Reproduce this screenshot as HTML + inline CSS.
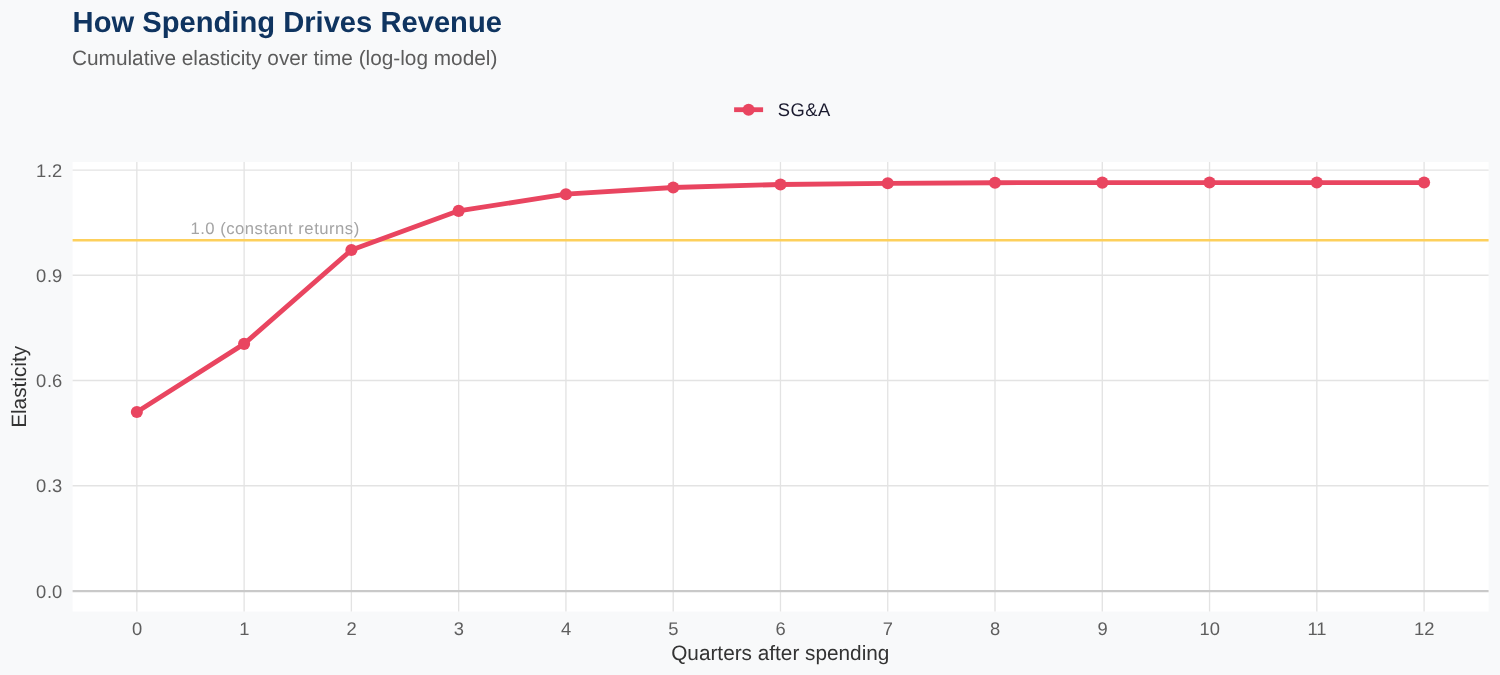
<!DOCTYPE html>
<html lang="en">
<head>
<meta charset="utf-8">
<title>How Spending Drives Revenue</title>
<style>
html,body{margin:0;padding:0;background:#f8f9fa;}
body{width:1500px;height:675px;overflow:hidden;}
svg{display:block;text-rendering:geometricPrecision;font-family:"Liberation Sans",Arial,Helvetica,sans-serif;}
.tick{font-size:18.33px;fill:#5e5e5e;}
.axt{font-size:20.78px;fill:#333333;}
</style>
</head>
<body>
<svg width="1500" height="675" viewBox="0 0 1500 675">
<rect x="0" y="0" width="1500" height="675" fill="#f8f9fa"/>
<rect x="72.6" y="162.0" width="1416.0" height="449.5" fill="#ffffff"/>
<g stroke="#e3e3e3" stroke-width="1.33" fill="none">
<line x1="72.6" x2="1488.6" y1="485.76" y2="485.76"/>
<line x1="72.6" x2="1488.6" y1="380.52" y2="380.52"/>
<line x1="72.6" x2="1488.6" y1="275.28" y2="275.28"/>
<line x1="72.6" x2="1488.6" y1="170.04" y2="170.04"/>
<line x1="136.85" x2="136.85" y1="162.0" y2="611.5"/>
<line x1="244.12" x2="244.12" y1="162.0" y2="611.5"/>
<line x1="351.39" x2="351.39" y1="162.0" y2="611.5"/>
<line x1="458.66" x2="458.66" y1="162.0" y2="611.5"/>
<line x1="565.93" x2="565.93" y1="162.0" y2="611.5"/>
<line x1="673.20" x2="673.20" y1="162.0" y2="611.5"/>
<line x1="780.47" x2="780.47" y1="162.0" y2="611.5"/>
<line x1="887.74" x2="887.74" y1="162.0" y2="611.5"/>
<line x1="995.01" x2="995.01" y1="162.0" y2="611.5"/>
<line x1="1102.28" x2="1102.28" y1="162.0" y2="611.5"/>
<line x1="1209.55" x2="1209.55" y1="162.0" y2="611.5"/>
<line x1="1316.82" x2="1316.82" y1="162.0" y2="611.5"/>
<line x1="1424.09" x2="1424.09" y1="162.0" y2="611.5"/>
</g>
<line x1="72.6" x2="1488.6" y1="591.1" y2="591.1" stroke="#c9c9c9" stroke-width="2.2"/>
<line x1="72.6" x2="1488.6" y1="240.25" y2="240.25" stroke="#fdd05c" stroke-width="2.67"/>
<text x="190.4" y="234" font-size="16.67" fill="#a4a4a4" textLength="168.8" lengthAdjust="spacing">1.0 (constant returns)</text>
<polyline points="136.85,412.00 244.12,343.85 351.39,249.97 458.66,210.86 565.93,194.20 673.20,187.50 780.47,184.50 887.74,183.30 995.01,182.75 1102.28,182.60 1209.55,182.55 1316.82,182.55 1424.09,182.55" fill="none" stroke="#e94560" stroke-width="4.8" stroke-linejoin="round" stroke-linecap="butt"/>
<g fill="#e94560">
<circle cx="136.85" cy="412.00" r="6.05"/>
<circle cx="244.12" cy="343.85" r="6.05"/>
<circle cx="351.39" cy="249.97" r="6.05"/>
<circle cx="458.66" cy="210.86" r="6.05"/>
<circle cx="565.93" cy="194.20" r="6.05"/>
<circle cx="673.20" cy="187.50" r="6.05"/>
<circle cx="780.47" cy="184.50" r="6.05"/>
<circle cx="887.74" cy="183.30" r="6.05"/>
<circle cx="995.01" cy="182.75" r="6.05"/>
<circle cx="1102.28" cy="182.60" r="6.05"/>
<circle cx="1209.55" cy="182.55" r="6.05"/>
<circle cx="1316.82" cy="182.55" r="6.05"/>
<circle cx="1424.09" cy="182.55" r="6.05"/>
</g>
<line x1="734.1" x2="763.1" y1="109.7" y2="109.7" stroke="#e94560" stroke-width="4.8"/>
<circle cx="748.6" cy="109.7" r="6.05" fill="#e94560"/>
<text x="777.8" y="115.6" font-size="18.33" fill="#1a1a2e" letter-spacing="0.5" style="font-kerning:none">SG&amp;A</text>
<text x="72.6" y="31.6" font-size="29.17" font-weight="bold" fill="#0f3460">How Spending Drives Revenue</text>
<text x="72.0" y="64.8" font-size="20.8" fill="#5c5c5c">Cumulative elasticity over time (log-log model)</text>
<g class="tick">
<text x="36 46.9 52" y="598">0.0</text>
<text x="36 46.9 52" y="492">0.3</text>
<text x="36 46.9 52" y="387">0.6</text>
<text x="36 46.9 52" y="282">0.9</text>
<text x="36 46.9 52" y="177">1.2</text>
</g>
<g class="tick" text-anchor="middle">
<text x="137.05" y="635">0</text>
<text x="244.32" y="635">1</text>
<text x="351.59" y="635">2</text>
<text x="458.86" y="635">3</text>
<text x="566.13" y="635">4</text>
<text x="673.40" y="635">5</text>
<text x="780.67" y="635">6</text>
<text x="887.94" y="635">7</text>
<text x="995.21" y="635">8</text>
<text x="1102.48" y="635">9</text>
<text x="1209.75" y="635">10</text>
<text x="1317.02" y="635">11</text>
<text x="1424.29" y="635">12</text>
</g>
<text class="axt" text-anchor="middle" x="780.3" y="659.5">Quarters after spending</text>
<text class="axt" text-anchor="middle" transform="translate(26.1,386.9) rotate(-90)">Elasticity</text>
</svg>
</body>
</html>
